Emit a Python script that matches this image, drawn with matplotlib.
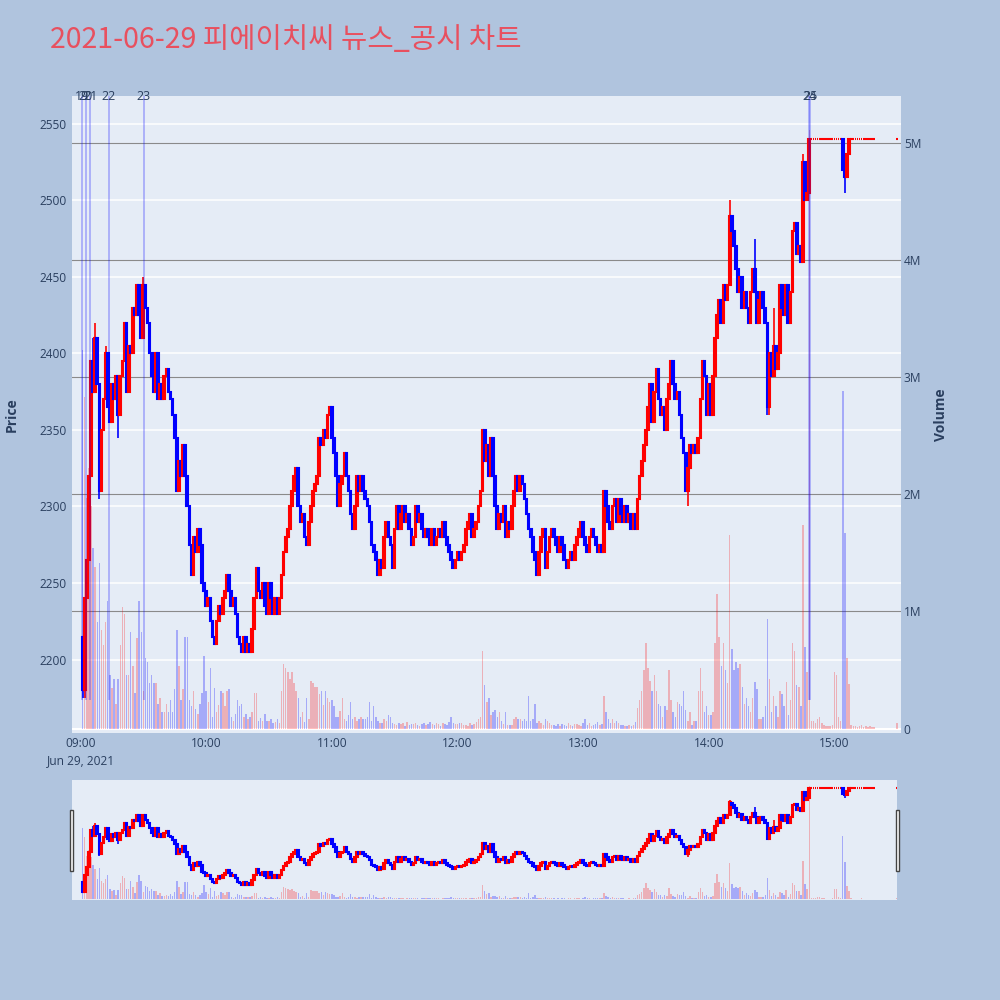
import numpy as np
import pandas as pd
import matplotlib
matplotlib.use('Agg')
import matplotlib.pyplot as plt
import matplotlib.dates as mdates
from matplotlib.transforms import blended_transform_factory
from matplotlib.patches import Rectangle

# ---------------- data ----------------
title = '2021-06-29 피에이치씨 뉴스_공시 차트'
session_times = list(pd.date_range('2021-06-29 09:01', '2021-06-29 15:19', freq='min')) + \
    [pd.Timestamp('2021-06-29 15:30')]
first_open = 2215
close = [
    2180, 2240, 2265, 2320, 2395, 2375, 2410, 2380, 2310, 2350,
    2370, 2400, 2365, 2355, 2380, 2370, 2385, 2360, 2385, 2395,
    2420, 2375, 2405, 2400, 2430, 2425, 2445, 2425, 2410, 2445,
    2430, 2420, 2400, 2385, 2375, 2400, 2370, 2380, 2370, 2385,
    2390, 2375, 2370, 2360, 2345, 2310, 2330, 2320, 2340, 2320,
    2300, 2275, 2255, 2280, 2270, 2285, 2275, 2250, 2245, 2235,
    2240, 2225, 2215, 2210, 2225, 2235, 2230, 2240, 2245, 2255,
    2245, 2235, 2240, 2230, 2215, 2210, 2205, 2215, 2205, 2210,
    2205, 2220, 2240, 2260, 2245, 2240, 2250, 2235, 2230, 2250,
    2240, 2230, 2240, 2230, 2240, 2255, 2270, 2280, 2285, 2300,
    2310, 2320, 2325, 2300, 2290, 2295, 2280, 2275, 2290, 2300,
    2310, 2315, 2320, 2345, 2340, 2350, 2345, 2360, 2365, 2345,
    2335, 2320, 2300, 2315, 2320, 2335, 2320, 2310, 2295, 2285,
    2300, 2320, 2310, 2320, 2310, 2305, 2300, 2290, 2275, 2270,
    2265, 2255, 2265, 2260, 2280, 2290, 2280, 2275, 2260, 2285,
    2300, 2285, 2295, 2300, 2290, 2295, 2285, 2275, 2280, 2300,
    2290, 2295, 2285, 2280, 2285, 2280, 2275, 2285, 2275, 2280,
    2285, 2280, 2290, 2280, 2275, 2270, 2265, 2260, 2265, 2270,
    2265, 2270, 2275, 2285, 2290, 2295, 2280, 2285, 2290, 2300,
    2310, 2350, 2330, 2340, 2320, 2345, 2320, 2300, 2285, 2295,
    2290, 2300, 2280, 2290, 2285, 2300, 2310, 2320, 2310, 2320,
    2315, 2305, 2295, 2285, 2280, 2270, 2265, 2255, 2270, 2280,
    2285, 2260, 2270, 2280, 2285, 2280, 2275, 2270, 2280, 2275,
    2265, 2260, 2265, 2270, 2265, 2275, 2280, 2285, 2290, 2280,
    2275, 2270, 2280, 2285, 2280, 2275, 2270, 2275, 2270, 2310,
    2300, 2290, 2285, 2300, 2305, 2290, 2305, 2295, 2290, 2300,
    2290, 2295, 2285, 2295, 2285, 2305, 2320, 2330, 2340, 2350,
    2365, 2380, 2355, 2375, 2390, 2370, 2360, 2365, 2350, 2370,
    2380, 2395, 2380, 2370, 2375, 2360, 2345, 2335, 2310, 2325,
    2340, 2335, 2340, 2335, 2345, 2370, 2395, 2385, 2360, 2380,
    2360, 2385, 2410, 2425, 2435, 2420, 2445, 2435, 2445, 2490,
    2480, 2470, 2455, 2440, 2450, 2430, 2440, 2430, 2420, 2440,
    2455, 2440, 2420, 2435, 2440, 2430, 2420, 2365, 2400, 2385,
    2405, 2390, 2400, 2445, 2430, 2425, 2445, 2420, 2440, 2480,
    2485, 2465, 2470, 2460, 2525, 2500, 2505, 2540, 2540, 2540,
    2540, 2540, 2540, 2540, 2540, 2540, 2540, 2540, 2540, 2540,
    2540, 2540, 2540, 2520, 2515, 2530, 2540, 2540, 2540, 2540,
    2540, 2540, 2540, 2540, 2540, 2540, 2540, 2540, 2540, 2540,
]
volume_k = [
    3230, 2830, 1970, 2220, 1900, 1540, 1380, 910, 1410, 840,
    710, 910, 1090, 460, 350, 425, 210, 425, 710, 1040,
    980, 460, 460, 820, 530, 300, 770, 1090, 820, 320,
    600, 570, 390, 460, 390, 390, 210, 260, 140, 140,
    210, 140, 240, 140, 335, 840, 530, 240, 335, 785,
    785, 240, 190, 320, 170, 120, 210, 300, 620, 320,
    225, 515, 100, 350, 140, 200, 320, 300, 190, 320,
    335, 100, 65, 120, 245, 190, 210, 100, 120, 80,
    100, 137, 300, 300, 65, 90, 65, 120, 65, 65,
    80, 47, 60, 83, 47, 317, 551, 515, 479, 425,
    479, 389, 317, 263, 100, 137, 60, 263, 83, 407,
    389, 353, 353, 299, 317, 200, 317, 263, 227, 245,
    191, 101, 101, 150, 263, 83, 65, 119, 227, 83,
    100, 65, 83, 100, 83, 83, 100, 227, 65, 191,
    100, 65, 47, 47, 83, 65, 119, 100, 47, 40,
    30, 50, 35, 45, 25, 60, 30, 40, 35, 50,
    30, 25, 40, 45, 30, 35, 55, 40, 30, 45,
    35, 25, 50, 40, 30, 60, 100, 47, 35, 40,
    47, 47, 30, 30, 25, 47, 30, 40, 60, 80,
    100, 660, 371, 227, 263, 119, 137, 155, 101, 137,
    65, 40, 137, 30, 30, 30, 83, 101, 83, 83,
    65, 83, 65, 281, 65, 83, 209, 47, 65, 47,
    30, 83, 65, 47, 30, 30, 25, 40, 20, 35,
    30, 25, 45, 30, 20, 35, 40, 30, 25, 50,
    83, 30, 45, 25, 30, 40, 60, 30, 35, 281,
    137, 83, 47, 83, 47, 65, 47, 30, 30, 20,
    20, 30, 20, 30, 60, 173, 245, 317, 497, 731,
    515, 407, 317, 461, 317, 209, 191, 101, 191, 155,
    497, 245, 137, 100, 227, 209, 191, 317, 155, 65,
    137, 30, 65, 65, 317, 515, 317, 137, 191, 119,
    119, 137, 731, 1145, 785, 533, 731, 497, 389, 1649,
    677, 497, 569, 515, 551, 353, 209, 263, 191, 137,
    263, 396, 335, 83, 83, 101, 191, 936, 425, 137,
    281, 191, 100, 317, 299, 191, 396, 119, 245, 731,
    659, 371, 353, 191, 1739, 695, 479, 5105, 65, 65,
    47, 83, 101, 47, 30, 25, 20, 20, 30, 479,
    461, 101, 65, 2880, 1667, 598, 382, 30, 20, 20,
    15, 20, 30, 15, 20, 15, 20, 15, 15, 47,
]
wick_high = {'09:06': 2410, '09:07': 2420, '09:12': 2405, '09:30': 2450,
             '14:10': 2500, '14:22': 2475, '14:31': 2430, '14:45': 2530}
wick_low = {'09:01': 2175, '09:02': 2175, '09:09': 2305, '09:18': 2345,
            '13:50': 2300, '14:28': 2360, '14:29': 2360, '15:05': 2505}
news_times = ['09:00:34', '09:02:29', '09:04:41', '09:13:28', '09:30:18', '14:48:06', '14:48:24']
news_labels = ['19', '20', '21', '22', '23', '24', '25']
price_ticks = [2200, 2250, 2300, 2350, 2400, 2450, 2500, 2550]
volume_ticks = [0, 1e6, 2e6, 3e6, 4e6, 5e6]
volume_tick_labels = ['0', '1M', '2M', '3M', '4M', '5M']
hour_ticks = ['09:00', '10:00', '11:00', '12:00', '13:00', '14:00', '15:00']
price_range = (2152, 2568)
volume_range = (-38000, 5395000)

# ---------------- prep ----------------
n = min(len(session_times), len(close), len(volume_k))
ts = pd.to_datetime(session_times[:n])
t = mdates.date2num(ts)
c = np.array(close[:n], float)
v = np.array(volume_k[:n], float) * 1000
o = np.concatenate([[first_open], c[:-1]])
hm = [x.strftime('%H:%M') for x in ts]
h = np.maximum(o, c)
l = np.minimum(o, c)
for i, k in enumerate(hm):
    if k in wick_high:
        h[i] = max(h[i], wick_high[k])
    if k in wick_low:
        l[i] = min(l[i], wick_low[k])
up = c >= o
RED, BLUE = '#FF0000', '#0000FF'
cols = np.where(up, RED, BLUE)
vcols = [(1, 0, 0, 0.25) if u else (0, 0, 1, 0.28) for u in up]
MIN = 1.0 / 1440
day0 = mdates.date2num(pd.Timestamp('2021-06-29 09:00'))
news_x = mdates.date2num(pd.to_datetime(['2021-06-29 ' + s for s in news_times]))
hour_x = mdates.date2num(pd.to_datetime(['2021-06-29 ' + s for s in hour_ticks]))

BG = '#E5ECF6'
FIGBG = '#B0C4DE'
TXT = '#2a3f5f'
TICKFONT = ['Open Sans', 'DejaVu Sans']

fig = plt.figure(figsize=(10, 10), dpi=100, facecolor=FIGBG)


def draw(ax_v, ax_p, vol_w, body_w, body_lw):
    ax_v.bar(t, v, width=vol_w * MIN, color=vcols, linewidth=0, zorder=2)
    ax_p.vlines(t, l, h, colors=cols, linewidth=1.2, zorder=3)
    ax_p.bar(t, c - o, bottom=o, width=body_w * MIN, color=cols, edgecolor=cols,
             linewidth=body_lw, zorder=4)


# ---------------- main chart ----------------
ax_v = fig.add_axes([0.072, 0.267, 0.829, 0.6367])
ax_p = ax_v.twinx()
ax_v.set_facecolor(BG)
ax_p.patch.set_visible(False)
ax_v.set_xlim(day0 - 4.06 * MIN, day0 + 391.8 * MIN)
ax_v.set_ylim(*volume_range)
ax_p.set_ylim(*price_range)

# grids (below traces)
trans_pg = blended_transform_factory(ax_v.transAxes, ax_p.transData)
for p in price_ticks:
    ax_v.plot([0, 1], [p, p], transform=trans_pg, color='white', lw=1.1, zorder=0.5)
for vt in volume_ticks[1:]:
    ax_v.axhline(vt, color='#8a8a8a', lw=0.8, zorder=0.6)
ax_v.axhline(0, color='white', lw=1.5, zorder=0.7)

draw(ax_v, ax_p, 0.7, 0.8, 1.5)

# news lines
trans_n = blended_transform_factory(ax_p.transData, ax_p.transAxes)
for xn, lab in zip(news_x, news_labels):
    ax_p.axvline(xn, ymin=0.054, ymax=1.0, color=(0, 0, 1, 0.25), lw=1.4, zorder=5)
    ax_p.text(xn, 1.0, lab, transform=trans_n, ha='center', va='center',
              fontsize=9, color=TXT, family=TICKFONT, zorder=6, clip_on=False)

for a in (ax_v, ax_p):
    for s in a.spines.values():
        s.set_visible(False)

ax_p.yaxis.set_ticks_position('left')
ax_p.yaxis.set_label_position('left')
ax_v.yaxis.set_ticks_position('right')
ax_v.yaxis.set_label_position('right')

ax_p.set_yticks(price_ticks)
ax_p.set_yticklabels([str(p) for p in price_ticks])
ax_v.set_yticks(volume_ticks)
ax_v.set_yticklabels(volume_tick_labels)
ax_v.set_xticks(hour_x)
ax_v.set_xticklabels([hour_ticks[0] + '\nJun 29, 2021'] + hour_ticks[1:])

ax_p.tick_params(axis='y', length=0, pad=4, labelsize=8.6, labelcolor=TXT)
ax_v.tick_params(axis='y', length=0, pad=2, labelsize=8.6, labelcolor=TXT)
ax_v.tick_params(axis='x', length=0, pad=3, labelsize=8.6, labelcolor=TXT)
for lab in ax_p.get_yticklabels() + ax_v.get_yticklabels() + ax_v.get_xticklabels():
    lab.set_family(TICKFONT)
for lab in ax_v.get_xticklabels():
    lab.set_linespacing(1.35)

ax_p.set_ylabel('Price', fontsize=10, fontweight='bold', color=TXT, family=TICKFONT)
ax_p.yaxis.set_label_coords(-0.064, 0.5)
ax_v.set_ylabel('Volume', fontsize=10, fontweight='bold', color=TXT, family=TICKFONT)
ax_v.yaxis.set_label_coords(1.040, 0.5)

# ---------------- range slider ----------------
axs_v = fig.add_axes([0.072, 0.100, 0.825, 0.120])
axs_p = axs_v.twinx()
axs_v.set_facecolor(BG)
axs_p.patch.set_visible(False)
axs_v.set_xlim(day0 - 4.06 * MIN, day0 + 389.9 * MIN)
axs_v.set_ylim(*volume_range)
axs_p.set_ylim(*price_range)
draw(axs_v, axs_p, 0.7, 0.8, 1.5)
for a in (axs_v, axs_p):
    a.set_xticks([])
    a.set_yticks([])
    for s in a.spines.values():
        s.set_visible(False)

for hx in (0.0695, 0.8957):
    fig.patches.append(Rectangle((hx, 1 - 0.871), 0.0036, 0.061, transform=fig.transFigure,
                                 facecolor='white', edgecolor='#444444', lw=1.0, zorder=10))

# ---------------- title ----------------
fig.text(0.05, 0.96, title, fontsize=20.6, color='#E8505F',
         family=['Noto Sans CJK KR', 'DejaVu Sans'], ha='left', va='center')

fig.savefig('out.png', dpi=100, facecolor=FIGBG)
